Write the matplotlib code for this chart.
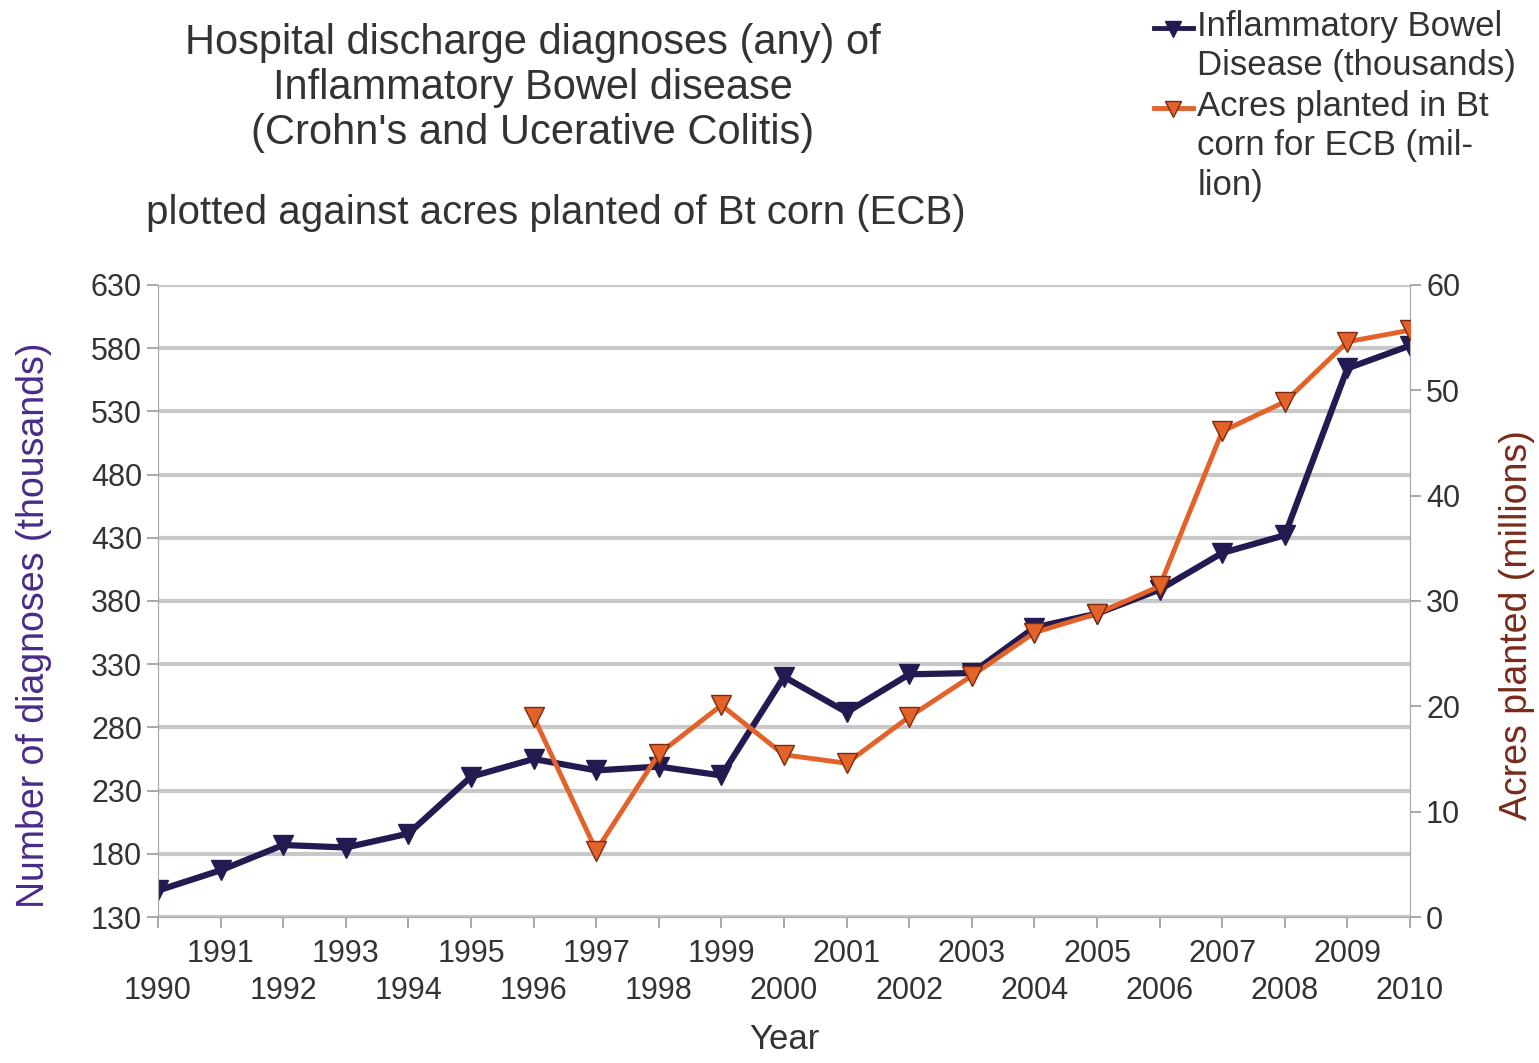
import numpy as np
import matplotlib.pyplot as plt
from matplotlib.lines import Line2D

plt.rcParams['font.family'] = ['Liberation Sans', 'DejaVu Sans']

# data
years = list(range(1990, 2011))
ibd = [151, 167, 187, 185, 196, 241, 255, 246, 249, 242, 320,
       292, 322, 323, 359, 370, 389, 418, 432, 564, 582]
bt_years = list(range(1996, 2011))
bt_acres = [19.0, 6.3, 15.5, 20.1, 15.4, 14.6, 19.0, 22.9, 27.0,
            28.8, 31.4, 46.1, 48.9, 54.6, 55.7]
left_ticks = list(range(130, 631, 50))
right_ticks = list(range(0, 61, 10))

navy = '#241a52'
orange = '#e2622a'
txt = '#333333'

fig = plt.figure(figsize=(15.39, 10.63), dpi=100)
ax = fig.add_axes([0.1027, 0.1373, 0.8135, 0.5947])
ax2 = ax.twinx()

ax.plot(years, ibd, color=navy, lw=4.5, marker='v', ms=14,
        mfc=navy, mec=navy, zorder=3)
ax2.plot(bt_years, bt_acres, color=orange, lw=3.5, marker='v', ms=14,
         mfc=orange, mec='#7a2a10', zorder=3)

ax.set_xlim(1990, 2010)
ax.set_ylim(130, 630)
ax2.set_ylim(0, 60)
ax.set_yticks(left_ticks)
ax2.set_yticks(right_ticks)
ax.yaxis.grid(True, color='#c8c8c8', lw=3)
ax.set_axisbelow(True)

ax.set_xticks(years)
ax.set_xticklabels([str(y) if y % 2 else '\n' + str(y) for y in years],
                   linespacing=1.3)
for a in (ax, ax2):
    a.tick_params(labelsize=22, colors=txt, length=8, width=1.2)
    a.tick_params(axis='both', which='both', color='#999999')
    for s in a.spines.values():
        s.set_color('#aaaaaa')
    a.spines['top'].set_visible(False)
ax.tick_params(axis='x', pad=8)

ax.set_xlabel('Year', fontsize=25, color=txt, labelpad=12)
ax.set_ylabel('Number of diagnoses (thousands)', fontsize=27,
              color='#4a2a8a')
ax2.set_ylabel('Acres planted (millions)', fontsize=27,
               color='#7a2a1a')
ax.yaxis.set_label_coords(-0.085, 0.462)
ax2.yaxis.set_label_coords(1.071, 0.462)

fig.text(0.346, 0.978, "Hospital discharge diagnoses (any) of\n"
         "Inflammatory Bowel disease\n(Crohn's and Ucerative Colitis)",
         ha='center', va='top', fontsize=30, color=txt, linespacing=1.15)
fig.text(0.361, 0.80, 'plotted against acres planted of Bt corn (ECB)',
         ha='center', va='center', fontsize=29, color=txt)

# legend drawn by hand so the key sits on the first line of each entry
entries = [('Inflammatory Bowel\nDisease (thousands)', navy, navy, 0.9735),
           ('Acres planted in Bt\ncorn for ECB (mil-\nlion)', orange, '#7a2a10', 0.898)]
for label, c, ec, yy in entries:
    fig.add_artist(Line2D([0.750, 0.775], [yy, yy], transform=fig.transFigure,
                          color=c, lw=3.5))
    fig.add_artist(Line2D([0.7625], [yy - 0.001], transform=fig.transFigure,
                          color=c, marker='v', ms=11, mfc=c, mec=ec, ls='none'))
    fig.text(0.778, yy + 0.0175, label, ha='left', va='top', fontsize=25,
             color=txt, linespacing=1.25)

fig.savefig('out.png', dpi=100)
